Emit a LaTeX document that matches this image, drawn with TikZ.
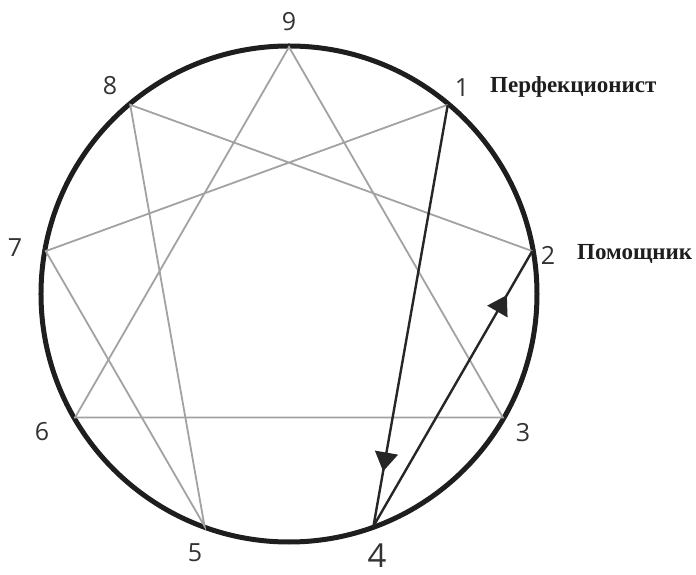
\documentclass[tikz,border=0pt]{standalone}
\usepackage{fontspec}
\setmainfont{Liberation Serif}
\newfontfamily\digitfont{Open Sans}
\definecolor{mRing}{HTML}{1E1E1E}
\definecolor{mGrayLine}{HTML}{A2A2A2}
\definecolor{mArrowLine}{HTML}{262626}
\definecolor{mDigit}{HTML}{333333}
\usetikzlibrary{arrows.meta,decorations.markings}

\tikzset{
  digit/.style={text=mDigit, inner sep=0pt, font=\digitfont\fontsize{25}{30}\selectfont},
  typename/.style={text=mRing, inner sep=0pt, font=\bfseries\fontsize{23}{28}\selectfont},
  graychord/.style={mGrayLine, line width=1.8pt},
  movechord/.style={mArrowLine, line width=2.4pt, postaction={decorate},
    decoration={markings, mark=at position #1 with {\arrow{Triangle[length=19pt,width=23pt]}}}}
}

\begin{document}
\begin{tikzpicture}[x=1pt, y=1pt]
\useasboundingbox (-289,-281) rectangle (407,294);
\draw[mRing, line width=5pt] (0,0) circle (248);
\foreach \n/\a in {9/90,1/50,2/10,3/-30,4/-70,5/-110,6/-150,7/170,8/130}
  \coordinate (p\n) at (\a:247);
% triangle and the other chords
\draw[graychord] (p9) -- (p3) -- (p6) -- cycle;
\draw[graychord] (p1) -- (p7) -- (p5) -- (p8) -- (p2);
% the two marked moves
\draw[movechord=0.87] (p1) -- (p4);
\draw[movechord=0.84] (p4) -- (p2);
\node[digit] (n9) at (0,272) {9};
\node[digit] (n1) at (173,206) {1};
\node[digit] (n2) at (259,39) {2};
\node[digit] (n3) at (234,-139) {3};
\node[digit, font=\digitfont\fontsize{33}{38}\selectfont] (n4) at (88,-262) {4};
\node[digit] (n5) at (-94,-259) {5};
\node[digit] (n6) at (-247,-138) {6};
\node[digit] (n7) at (-274,46) {7};
\node[digit] (n8) at (-179,208) {8};
\node[typename, anchor=base west] (t1) at (201,201) {Перфекционист};
\node[typename, anchor=base west] (t2) at (288,34) {Помощник};
\end{tikzpicture}
\end{document}
